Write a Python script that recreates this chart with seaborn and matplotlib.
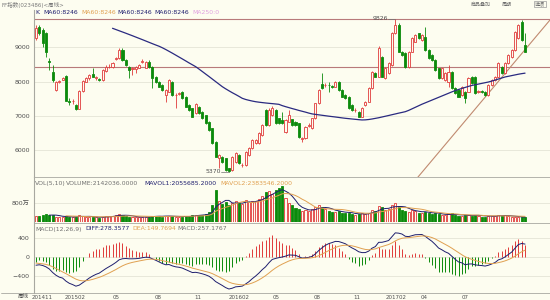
import numpy as np
import pandas as pd
import matplotlib
matplotlib.use("Agg")
import matplotlib.pyplot as plt
import seaborn as sns

# ---------------- data (weekly candles) ----------------
opens = [9261, 9601, 9504, 9406, 8600, 8270, 7754, 7990, 8060, 8160,
         7420, 7430, 7317, 7200, 7730, 8000, 8094, 8210, 8100, 8070,
         8046, 8310, 8420, 8434, 8660, 8677, 8920, 8629, 8434, 8370,
         8360, 8410, 8570, 8410, 8580, 8434, 8143, 7997, 7900, 7608,
         7706, 7997, 7610, 7650, 7706, 7560, 7317, 7220, 7074, 7268,
         7122, 7025, 6831, 6636, 6248, 5760, 5810, 5762, 5470, 5421,
         5664, 5859, 5560, 5567, 5859, 6053, 6199, 6199, 6442, 7171,
         6733, 7025, 7171, 6928, 6879, 6539, 6831, 6900, 6831, 6782,
         6340, 6345, 6720, 6636, 6928, 7365, 7920, 7890, 7910, 7860,
         7851, 7997, 7754, 7608, 7560, 7317, 7160, 7122, 6977, 7317,
         7414, 7803, 8240, 8143, 8726, 8094, 8240, 8483, 9406, 9649,
         8872, 8823, 8434, 8872, 9164, 9406, 9212, 9309, 8920, 8775,
         8629, 8386, 8094, 8046, 7997, 8289, 7803, 7754, 7608, 7706,
         7706, 8143, 8143, 7700, 7720, 7706, 7608, 7900, 8046, 8143,
         8434, 8240, 8532, 8726, 8920, 9261, 9747, 9066]
highs = [9649, 9649, 9552, 9455, 8677, 8483, 8020, 8050, 8143, 8200,
         7511, 7500, 7360, 7760, 8040, 8120, 8220, 8386, 8160, 8100,
         8360, 8480, 8520, 8560, 8720, 8990, 8990, 8650, 8460, 8440,
         8460, 8500, 8650, 8600, 8620, 8450, 8170, 8020, 7920, 7780,
         8080, 8010, 7660, 7700, 7720, 7580, 7340, 7240, 7380, 7290,
         7140, 7040, 6850, 6660, 6270, 5900, 5830, 5780, 5490, 5840,
         5960, 5880, 5620, 5980, 6080, 6320, 6330, 6520, 6760, 7200,
         7220, 7280, 7200, 6950, 7122, 6900, 7171, 6920, 6850, 6800,
         6380, 6710, 6780, 6950, 7390, 7780, 8240, 7960, 7980, 7900,
         8030, 8020, 7780, 7630, 7580, 7340, 7220, 7140, 7250, 7440,
         7830, 8310, 8270, 9050, 8760, 8420, 8560, 9440, 9826, 9700,
         8900, 8850, 8900, 9290, 9400, 9430, 9380, 9601, 8940, 8800,
         8650, 8410, 8410, 8270, 8483, 8310, 7830, 7780, 7880, 7730,
         8120, 8170, 8160, 7750, 7760, 7730, 7920, 8070, 8170, 8560,
         8460, 8560, 8800, 8950, 9480, 9680, 9790, 9406]
lows = [9212, 9358, 9018, 8726, 8337, 7997, 7730, 7960, 8040, 7420,
        7317, 7350, 7180, 7190, 7700, 7980, 8060, 8120, 8060, 8010,
        8030, 8290, 8400, 8410, 8640, 8660, 8600, 8460, 8094, 8200,
        8250, 8390, 8540, 8390, 8400, 7803, 7960, 7830, 7730, 7414,
        7690, 7590, 7220, 7620, 7490, 7250, 7150, 6960, 7050, 7050,
        6910, 6760, 6570, 6180, 5790, 5470, 5640, 5400, 5370, 5400,
        5640, 5600, 5520, 5550, 5840, 6030, 6180, 6180, 6420, 6710,
        6700, 7000, 6760, 6760, 6760, 6510, 6810, 6710, 6710, 6370,
        6248, 6330, 6690, 6620, 6910, 7340, 7780, 7850, 7700, 7820,
        7830, 7730, 7540, 7490, 7200, 7150, 7120, 6960, 6960, 7300,
        7400, 7780, 8120, 8120, 8120, 8070, 8220, 8460, 9380, 8850,
        8750, 8410, 8410, 8850, 9140, 9240, 9190, 8900, 8650, 8600,
        8310, 8070, 8070, 8020, 7851, 7780, 7630, 7540, 7590, 7365,
        7690, 7930, 7640, 7660, 7670, 7590, 7590, 7880, 8030, 8120,
        8220, 8220, 8510, 8700, 8900, 9240, 9190, 8850]
closes = [9552, 9406, 9115, 8872, 8560, 8046, 7997, 8010, 8094, 7430,
          7410, 7440, 7200, 7720, 8020, 8094, 8191, 8143, 8120, 8046,
          8337, 8434, 8440, 8532, 8690, 8920, 8629, 8483, 8337, 8400,
          8434, 8483, 8590, 8580, 8434, 8094, 7997, 7851, 7754, 7754,
          8046, 7608, 7620, 7670, 7511, 7268, 7171, 6977, 7340, 7074,
          6928, 6782, 6588, 6199, 5810, 5860, 5664, 5421, 5400, 5810,
          5907, 5616, 5580, 5956, 6053, 6296, 6296, 6490, 6733, 6733,
          7171, 7220, 6782, 6782, 6782, 6879, 7025, 6733, 6733, 6393,
          6350, 6685, 6740, 6928, 7365, 7754, 7803, 7910, 7890, 7850,
          7997, 7754, 7560, 7511, 7220, 7171, 7180, 6977, 7220, 7414,
          7803, 8289, 8143, 8969, 8143, 8386, 8532, 9406, 9649, 8872,
          8775, 8434, 8872, 9261, 9358, 9261, 9358, 8920, 8677, 8629,
          8337, 8094, 8386, 8240, 8289, 7803, 7657, 7560, 7851, 7511,
          8094, 7948, 7657, 7712, 7700, 7608, 7900, 8046, 8143, 8532,
          8240, 8532, 8775, 8920, 9455, 9649, 9212, 8872]
# weekly volume, in 万
volumes = [260, 240, 300, 330, 310, 280, 230, 200, 190, 260,
           210, 200, 230, 280, 250, 220, 210, 200, 190, 180,
           230, 250, 240, 260, 280, 330, 300, 250, 230, 200,
           190, 200, 210, 230, 220, 260, 270, 240, 220, 260,
           270, 240, 220, 200, 220, 260, 250, 290, 310, 280,
           300, 340, 420, 700, 1350, 900, 750, 850, 700, 800,
           900, 800, 750, 930, 850, 880, 900, 950, 1100, 1250,
           1300, 1200, 1350, 1450, 1500, 1000, 800, 700, 600, 550,
           450, 500, 460, 560, 640, 700, 620, 540, 480, 440,
           420, 460, 400, 360, 390, 350, 300, 320, 360, 340,
           400, 520, 480, 680, 640, 520, 560, 720, 780, 680,
           520, 480, 440, 500, 460, 400, 360, 440, 400, 350,
           360, 320, 300, 290, 320, 360, 300, 270, 250, 290,
           300, 270, 290, 250, 230, 220, 250, 270,
           250, 300, 260, 285.7036, 260, 190, 220, 204, 199.639, 214.2036]
# 60-week moving average as drawn (starts at week 23)
ma60_start = 23
ma60 = [9554, 9518, 9482, 9446, 9410, 9373, 9336, 9298, 9260, 9222,
        9183, 9144, 9105, 9067, 9030, 8985, 8935, 8882, 8828, 8772,
        8716, 8660, 8603, 8545, 8490, 8435, 8365, 8293, 8220, 8148,
        8074, 8000, 7926, 7852, 7790, 7732, 7676, 7624, 7570, 7513,
        7480, 7455, 7433, 7414, 7400, 7388, 7377, 7367, 7358, 7348,
        7338, 7300, 7270, 7242, 7214, 7188, 7160, 7135, 7110, 7082,
        7058, 7044, 7031, 7018, 7005, 6992, 6980, 6968, 6955, 6942,
        6930, 6920, 6910, 6900, 6890, 6882, 6885, 6895, 6910, 6928,
        6946, 6968, 6990, 7012, 7035, 7057, 7080, 7101, 7123, 7160,
        7205, 7250, 7295, 7340, 7380, 7420, 7460, 7500, 7540, 7580,
        7620, 7660, 7700, 7738, 7770, 7800, 7830, 7860, 7888, 7908,
        7928, 7948, 7968, 7988, 8015, 8045, 8075, 8105, 8135, 8155,
        8175, 8195, 8215, 8232, 8246]
support_level = 8417
high_level = 9826
low_level = 5370
trend_weeks = [114.5, 154.5]
trend_values = [5181, 9796]
tick_weeks = [2, 11.7, 24, 36.6, 48.6, 61.2, 72.3, 84.6, 96.3, 108.3, 116.7, 129]
tick_labels = ["201411", "201502", "05", "08", "11", "201602", "05", "08",
               "11", "201702", "04", "07"]
macd_seed = {"ema12": 9430.0, "ema26": 9620.0, "dea": -110.0}

# ---------------- derived ----------------
n = len(closes)
wk = np.arange(n)
df = pd.DataFrame({"week": wk, "open": opens, "high": highs, "low": lows,
                   "close": closes, "vol": np.array(volumes) * 1e4})
df["up"] = df["close"] >= df["open"]
df["mavol1"] = df["vol"].rolling(5).mean()
df["mavol2"] = df["vol"].rolling(10).mean()
e12, e26, dea = macd_seed["ema12"], macd_seed["ema26"], macd_seed["dea"]
diffs, deas = [], []
for c in closes:
    e12 = e12 * 11 / 13 + c * 2 / 13
    e26 = e26 * 25 / 27 + c * 2 / 27
    d = e12 - e26
    dea = dea * 8 / 10 + d * 2 / 10
    diffs.append(d)
    deas.append(dea)
df["diff"] = diffs
df["dea"] = deas
df["macd"] = 2 * (df["diff"] - df["dea"])
ma_df = pd.DataFrame({"week": np.arange(ma60_start, ma60_start + len(ma60)), "ma": ma60})

# ---------------- style ----------------
BG = "#fdfdf0"
RED = "#e03a3a"
GREEN = "#0b8a0b"
NAVY = "#1e1e6e"
ORANGE = "#e0a050"
GRID = "#e4e4d6"
SPINE = "#a8a8a0"
TXT = "#505050"
sns.set_style("white", {"axes.facecolor": BG, "figure.facecolor": BG})
plt.rcParams["font.family"] = ["DejaVu Sans", "Noto Sans CJK SC"]

W, H = 550, 300
fig = plt.figure(figsize=(5.5, 3.0), dpi=100)
fig.patch.set_facecolor(BG)


def rect(l, t, r, b):
    return [l / W, 1 - b / H, (r - l) / W, (b - t) / H]


ax = fig.add_axes(rect(34, 10, 550, 177))
axv = fig.add_axes(rect(34, 177, 550, 222))
axm = fig.add_axes(rect(34, 223, 550, 293))
XLIM = (-0.6, 154.5)

for a in (ax, axv, axm):
    a.set_facecolor(BG)
    for s in a.spines.values():
        s.set_visible(False)
    a.spines["left"].set_visible(True)
    a.spines["left"].set_color(SPINE)
    a.spines["left"].set_linewidth(0.8)
    a.tick_params(axis="y", length=2, width=0.5, color=SPINE, labelsize=4.5,
                  labelcolor=TXT, pad=1)
    a.tick_params(axis="x", length=0)
for a in (axv, axm):
    a.spines["top"].set_visible(True)
    a.spines["top"].set_color(SPINE)
    a.spines["top"].set_linewidth(0.6)
axm.spines["bottom"].set_visible(True)
axm.spines["bottom"].set_color(SPINE)
axm.spines["bottom"].set_linewidth(0.6)

# ---------------- main candles ----------------
ax.yaxis.grid(True, color=GRID, lw=0.6)
ax.set_axisbelow(True)
ax.axhline(support_level, color="#b87a7a", lw=0.8, zorder=1)
ax.axhline(high_level, color="#b87a7a", lw=0.8, zorder=1)
ax.plot(trend_weeks, trend_values, color="#c08a70", lw=0.8, zorder=2)

bw = 0.62
for up, grp in df.groupby("up"):
    col = RED if up else GREEN
    body_lo = np.minimum(grp["open"], grp["close"])
    body_hi = np.maximum(grp["open"], grp["close"])
    height = np.maximum(body_hi - body_lo, 12)
    ax.vlines(grp["week"], body_hi, grp["high"], color=col, lw=0.6, zorder=3)
    ax.vlines(grp["week"], grp["low"], body_lo, color=col, lw=0.6, zorder=3)
    ax.bar(grp["week"], height, bottom=body_lo, width=bw,
           color=BG if up else col, edgecolor=col, linewidth=0.6, zorder=4)

sns.lineplot(data=ma_df, x="week", y="ma", ax=ax, color="#2a2a80", lw=0.9, zorder=5)

hi_i = int(np.argmax(highs))
lo_i = int(np.argmin(lows))
ax.plot([hi_i - 2.1, hi_i], [high_level, high_level], color="#707070", lw=0.5, zorder=5)
ax.text(hi_i - 2.3, high_level, str(high_level), ha="right", va="center",
        fontsize=4.4, color=TXT, zorder=6)
ax.plot([lo_i - 2.3, lo_i], [low_level, low_level], color="#707070", lw=0.5, zorder=5)
ax.text(lo_i - 2.5, low_level, str(low_level), ha="right", va="center",
        fontsize=4.4, color=TXT, zorder=6)
ax.set_xlabel("")
ax.set_ylabel("")
ax.set_xticks([])
ax.set_yticks([9000, 8000, 7000, 6000])
ax.set_xlim(*XLIM)
ax.set_ylim(5219, 10087)

# ---------------- volume ----------------
axv.yaxis.grid(True, color=GRID, lw=0.6)
axv.set_axisbelow(True)
for up, grp in df.groupby("up"):
    col = RED if up else GREEN
    axv.bar(grp["week"], grp["vol"], width=bw, color=BG if up else col,
            edgecolor=col, linewidth=0.6, zorder=3)
sns.lineplot(data=df, x="week", y="mavol1", ax=axv, color=NAVY, lw=0.7, zorder=4)
sns.lineplot(data=df, x="week", y="mavol2", ax=axv, color=ORANGE, lw=0.7, zorder=4)
axv.set_xlabel("")
axv.set_ylabel("")
axv.set_xticks([])
axv.set_yticks([800e4])
axv.set_yticklabels(["800万"])
axv.set_xlim(*XLIM)
axv.set_ylim(0, 1895e4)

# ---------------- MACD ----------------
axm.yaxis.grid(True, color=GRID, lw=0.6)
axm.set_axisbelow(True)
pos = df[df["macd"] >= 0]
neg = df[df["macd"] < 0]
axm.vlines(pos["week"], 0, pos["macd"], color=RED, lw=0.7, zorder=3)
axm.vlines(neg["week"], 0, neg["macd"], color=GREEN, lw=0.7, zorder=3)
sns.lineplot(data=df, x="week", y="diff", ax=axm, color=NAVY, lw=0.7, zorder=4)
sns.lineplot(data=df, x="week", y="dea", ax=axm, color=ORANGE, lw=0.7, zorder=4)
axm.set_xlabel("")
axm.set_ylabel("")
axm.set_xticks(tick_weeks)
axm.set_xticklabels(tick_labels)
axm.tick_params(axis="x", labelsize=4, labelcolor=TXT, pad=1.5, length=0)
axm.set_yticks([400, 0, -400])
axm.set_xlim(*XLIM)
axm.set_ylim(-751, 722)

# ---------------- header texts ----------------
def ftext(px, py, s, color, size=4.4, **kw):
    fig.text(px / W, 1 - py / H, s, color=color, fontsize=size, va="center", ha="left", **kw)


last = df.iloc[-1]
ftext(2, 5, "FF指数(023486)<周线>", "#7a7a7a", size=4.0)
ftext(471, 4, "商品叠加", "#6a6a6a", size=3.6)
ftext(502, 4, "周期", "#6a6a6a", size=3.6)
ftext(535, 4, "选项", "#6a6a6a", size=3.6,
      bbox=dict(boxstyle="square,pad=0.15", fc=BG, ec="#9a9a9a", lw=0.5))

ftext(35, 13, "K", NAVY)
ftext(43, 13, f"MA60:{ma60[-1]}", NAVY)
ftext(81, 13, f"MA60:{ma60[-1]}", ORANGE)
ftext(117, 13, f"MA60:{ma60[-1]}", NAVY)
ftext(154, 13, f"MA60:{ma60[-1]}", NAVY)
ftext(192, 13, "MA250:0", "#e0a0e0")

ftext(35, 183.5, "VOL(5,10)", "#707070")
ftext(66, 183.5, f"VOLUME:{last['vol']:.4f}", "#707070")
ftext(144, 183.5, f"MAVOL1:{last['mavol1']:.4f}", NAVY)
ftext(220, 183.5, f"MAVOL2:{last['mavol2']:.4f}", ORANGE)

ftext(35, 229, "MACD(12,26,9)", "#707070")
ftext(85, 229, f"DIFF:{last['diff']:.4f}", NAVY)
ftext(132, 229, f"DEA:{last['dea']:.4f}", ORANGE)
ftext(177, 229, f"MACD:{last['macd']:.4f}", "#707070")

ftext(18, 296.5, "周线", TXT, size=4.0)
fig.lines.append(plt.Line2D([1 / W, 34 / W], [1 - 293 / H, 1 - 293 / H],
                            transform=fig.transFigure, color=SPINE, lw=0.6))

fig.savefig("out.png", dpi=100, facecolor=BG)
